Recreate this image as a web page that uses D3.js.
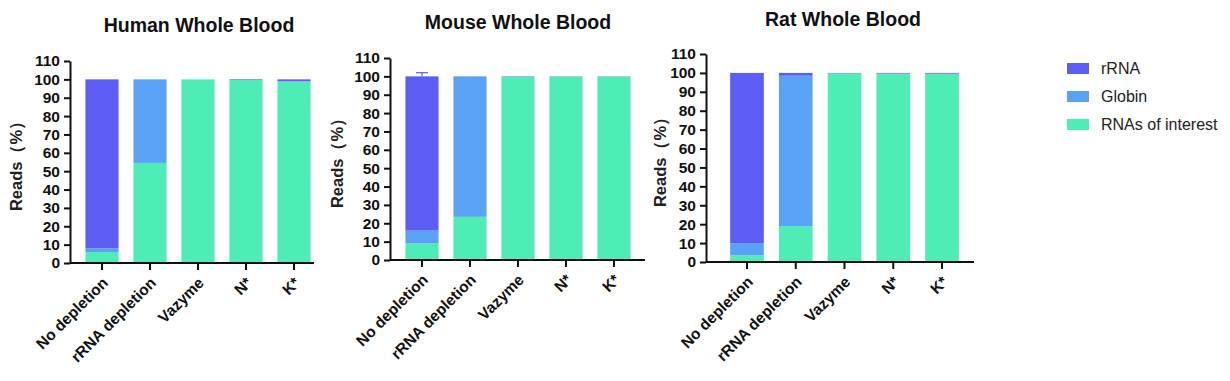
<!DOCTYPE html>
<html>
<head>
<meta charset="utf-8">
<script src="https://cdn.jsdelivr.net/npm/d3@7"></script>
<style>
  body { margin: 0; background: #fff; }
  svg { display: block; font-family: "Liberation Sans", Arial, sans-serif; }
</style>
</head>
<body>
<div id="chart"></div>
<script>
// categories and series (stacked bottom -> top: interest, globin, rRNA)
const categories = ["No depletion", "rRNA depletion", "Vazyme", "N*", "K*"];
const seriesNames = ["rRNA", "Globin", "RNAs of interest"];
const yTicks = [0, 10, 20, 30, 40, 50, 60, 70, 80, 90, 100, 110];

const humanInterest = [6, 54.5, 100, 99.6, 98.8];
const humanGlobin   = [2, 45.5, 0, 0, 0.2];
const humanRRNA     = [92, 0, 0, 0.4, 1.0];
const humanErr      = [0, 0, 0, 0, 0];

const mouseInterest = [9, 23.5, 99.7, 99.8, 99.8];
const mouseGlobin   = [7, 76.5, 0.1, 0.1, 0.1];
const mouseRRNA     = [84, 0, 0.2, 0.1, 0.1];
const mouseErr      = [2, 0, 0, 0, 0];

const ratInterest = [3.5, 19, 99.6, 99.5, 99.5];
const ratGlobin   = [6.5, 79.5, 0.2, 0.2, 0.1];
const ratRRNA     = [90, 1.5, 0.2, 0.3, 0.4];
const ratErr      = [0, 0, 0, 0, 0];

const colors = {"rRNA": "#5b5df5", "Globin": "#5aa2f6", "RNAs of interest": "#4eedb6"};

const W = 1230, H = 381;
const svg = d3.select("#chart").append("svg")
  .attr("width", W).attr("height", H)
  .attr("viewBox", `0 0 ${W} ${H}`);

// panel layout
const panels = [
  {title: "Human Whole Blood", interest: humanInterest, globin: humanGlobin, rrna: humanRRNA, err: humanErr,
   axisX: 70, axisEnd: 314, band: [78, 318], yTop: 61, yBot: 263, titleX: 199, titleY: 32, labX: 22},
  {title: "Mouse Whole Blood", interest: mouseInterest, globin: mouseGlobin, rrna: mouseRRNA, err: mouseErr,
   axisX: 390, axisEnd: 645, band: [398, 638], yTop: 58, yBot: 260, titleX: 518, titleY: 29, labX: 343},
  {title: "Rat Whole Blood", interest: ratInterest, globin: ratGlobin, rrna: ratRRNA, err: ratErr,
   axisX: 706, axisEnd: 974, band: [722.6, 966.4], yTop: 54, yBot: 262, titleX: 843, titleY: 26, labX: 666}
];

panels.forEach(p => {
  const g = svg.append("g");
  const x = d3.scaleBand().domain(categories).range(p.band).paddingInner(0.31).paddingOuter(0.155);
  const y = d3.scaleLinear().domain([0, 110]).range([p.yBot, p.yTop]);

  const rows = categories.map((c, i) => ({cat: c, "RNAs of interest": p.interest[i], "Globin": p.globin[i], "rRNA": p.rrna[i]}));
  const stack = d3.stack().keys(["RNAs of interest", "Globin", "rRNA"])(rows);

  g.selectAll("g.layer").data(stack).join("g")
    .attr("class", "layer")
    .attr("fill", d => colors[d.key])
    .selectAll("rect").data(d => d).join("rect")
      .attr("x", d => x(d.data.cat))
      .attr("width", x.bandwidth())
      .attr("y", d => y(d[1]))
      .attr("height", d => y(d[0]) - y(d[1]));

  // error bars on top of stacks
  categories.forEach((c, i) => {
    if (p.err[i] > 0) {
      const cx = x(c) + x.bandwidth() / 2;
      g.append("line").attr("x1", cx).attr("x2", cx)
        .attr("y1", y(100)).attr("y2", y(100 + p.err[i]))
        .attr("stroke", colors["rRNA"]).attr("stroke-width", 1.2);
      g.append("line").attr("x1", cx - 6).attr("x2", cx + 6)
        .attr("y1", y(100 + p.err[i])).attr("y2", y(100 + p.err[i]))
        .attr("stroke", colors["rRNA"]).attr("stroke-width", 1.2);
    }
  });

  // y axis
  const yAxis = g.append("g")
    .attr("transform", `translate(${p.axisX},0)`)
    .call(d3.axisLeft(y).tickValues(yTicks).tickSize(6).tickPadding(4).tickSizeOuter(0));
  yAxis.select(".domain").attr("stroke", "#111").attr("stroke-width", 2);
  yAxis.selectAll(".tick line").attr("stroke", "#111").attr("stroke-width", 2);
  yAxis.selectAll(".tick text").attr("fill", "#111")
    .style("font-size", "15.5px").style("font-weight", "bold");

  // x axis
  const xAxis = g.append("g")
    .attr("transform", `translate(0,${p.yBot})`)
    .call(d3.axisBottom(x).tickSize(7).tickSizeOuter(0));
  xAxis.select(".domain").attr("d", `M${p.axisX},0H${p.axisEnd}`)
    .attr("stroke", "#111").attr("stroke-width", 2);
  xAxis.selectAll(".tick line").attr("stroke", "#111").attr("stroke-width", 2);
  xAxis.selectAll(".tick text")
    .attr("fill", "#111")
    .style("font-size", "15.5px").style("font-weight", "bold")
    .attr("text-anchor", "end")
    .attr("dy", "0.35em")
    .attr("transform", "translate(3,17) rotate(-45)")
    .attr("y", 0).attr("x", 0);

  // y label
  g.append("text")
    .attr("transform", `translate(${p.labX},${(p.yTop + p.yBot) / 2}) rotate(-90)`)
    .attr("text-anchor", "middle")
    .style("font-size", "16.5px").style("font-weight", "bold").attr("fill", "#222")
    .text("Reads（%）");

  // title
  g.append("text")
    .attr("x", p.titleX).attr("y", p.titleY)
    .attr("text-anchor", "middle")
    .style("font-size", "19.5px").style("font-weight", "bold").attr("fill", "#111")
    .text(p.title);
});

// legend
const legend = svg.append("g").attr("transform", "translate(1067,68)");
const li = legend.selectAll("g").data(seriesNames).join("g")
  .attr("transform", (d, i) => `translate(0,${i * 28})`);
li.append("rect").attr("x", 0).attr("y", -5).attr("width", 22).attr("height", 11)
  .attr("fill", d => colors[d]);
li.append("text").attr("x", 34).attr("y", 0).attr("dy", "0.35em")
  .style("font-size", "16px").attr("fill", "#222").text(d => d);
</script>
</body>
</html>
